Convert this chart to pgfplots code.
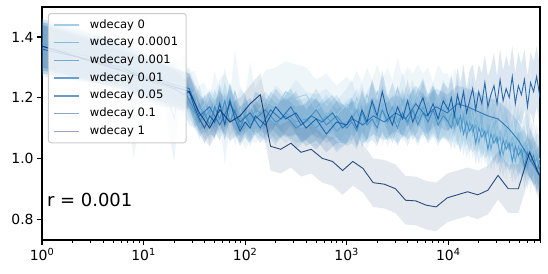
\documentclass[border=0pt]{standalone}
\usepackage{fontspec}
\setmainfont{DejaVu Sans}
\usepackage{pgfplots}
\pgfplotsset{compat=1.18}
\usepackage{pgfplotstable}
\usepgfplotslibrary{fillbetween}

\definecolor{c0}{HTML}{9DC9E2}
\definecolor{c1}{HTML}{7DB8DA}
\definecolor{c2}{HTML}{5BA3D0}
\definecolor{c3}{HTML}{3A8AC2}
\definecolor{c4}{HTML}{1F6EB3}
\definecolor{c5}{HTML}{0B559F}
\definecolor{c6}{HTML}{08306B}
\definecolor{l0}{RGB}{160,205,232}
\definecolor{l1}{RGB}{130,190,225}
\definecolor{l2}{RGB}{110,170,215}
\definecolor{l3}{RGB}{100,160,210}
\definecolor{l4}{RGB}{110,150,200}
\definecolor{l5}{RGB}{140,165,200}
\definecolor{l6}{RGB}{150,165,190}

% dense grid: x, mean and sd for wdecay 0, 0.0001, 0.001, 0.01, 0.1
\pgfplotstableread{
x m0 s0 m1 s1 m2 s2 m3 s3 m5 s5
1 1.37 .09 1.36 .09 1.38 .08 1.37 .08 1.36 .08
6.3 1.30 .08 1.31 .07 1.32 .07 1.31 .07 1.30 .07
8 1.16 .16 1.29 .07 1.30 .07 1.29 .07 1.28 .07
10 1.27 .08 1.27 .07 1.28 .07 1.27 .07 1.26 .07
15.8 1.25 .08 1.25 .07 1.25 .07 1.25 .07 1.24 .07
20 1.25 .08 1.13 .14 1.23 .07 1.24 .07 1.23 .06
22.4 1.24 .08 1.23 .07 1.22 .06 1.23 .06 1.22 .06
25.1 1.24 .10 1.22 .06 1.20 .05 1.23 .05 1.21 .05
28.2 1.20 .08 1.24 .06 1.17 .06 1.19 .05 1.22 .05
31.6 1.22 .07 1.18 .07 1.15 .05 1.16 .06 1.17 .06
35.5 1.15 .09 1.16 .06 1.18 .06 1.12 .05 1.13 .05
39.8 1.18 .07 1.12 .07 1.13 .05 1.15 .06 1.10 .05
44.7 1.12 .08 1.17 .06 1.16 .06 1.11 .05 1.14 .06
50.1 1.19 .10 1.14 .07 1.11 .05 1.17 .06 1.12 .05
56.2 1.14 .08 1.20 .06 1.19 .06 1.13 .05 1.18 .06
63.1 1.21 .09 1.13 .15 1.12 .06 1.19 .06 1.11 .05
70.8 1.13 .08 1.18 .06 1.20 .05 1.12 .05 1.19 .06
79.4 1.22 .14 1.11 .07 1.14 .06 1.16 .06 1.13 .05
89.1 1.16 .08 1.17 .06 1.10 .05 1.10 .05 1.09 .05
100 1.12 .09 1.14 .07 1.15 .06 1.14 .06 1.12 .05
112 1.19 .13 1.10 .06 1.12 .05 1.11 .05 1.10 .05
126 1.14 .09 1.15 .07 1.16 .06 1.13 .05 1.14 .05
158 1.19 .10 1.12 .07 1.14 .06 1.16 .06 1.11 .05
200 1.17 .13 1.16 .08 1.11 .06 1.12 .06 1.17 .06
251 1.22 .10 1.13 .08 1.15 .07 1.14 .06 1.13 .06
316 1.20 .11 1.17 .09 1.12 .07 1.10 .07 1.15 .07
398 1.21 .09 1.14 .08 1.13 .07 1.12 .06 1.10 .06
501 1.16 .10 1.12 .09 1.10 .07 1.16 .07 1.13 .07
631 1.19 .09 1.15 .08 1.14 .07 1.11 .06 1.08 .06
794 1.14 .10 1.11 .08 1.09 .07 1.14 .07 1.12 .07
1000 1.18 .09 1.14 .09 1.12 .07 1.10 .06 1.11 .06
1122 1.15 .10 1.18 .08 1.13 .07 1.12 .07 1.14 .06
1259 1.20 .09 1.12 .08 1.16 .07 1.09 .06 1.10 .06
1413 1.14 .11 1.16 .09 1.11 .07 1.15 .07 1.16 .07
1585 1.21 .09 1.11 .08 1.14 .08 1.11 .06 1.12 .06
1778 1.16 .10 1.17 .09 1.18 .07 1.13 .07 1.19 .07
1995 1.22 .09 1.13 .08 1.12 .07 1.10 .06 1.14 .06
2239 1.15 .11 1.18 .09 1.16 .08 1.16 .07 1.22 .07
2512 1.20 .10 1.12 .08 1.13 .07 1.12 .06 1.15 .06
2818 1.17 .09 1.16 .09 1.17 .08 1.14 .07 1.11 .06
3162 1.23 .10 1.13 .08 1.12 .07 1.10 .06 1.17 .07
3548 1.16 .11 1.19 .09 1.15 .08 1.15 .07 1.13 .06
3981 1.21 .09 1.14 .08 1.11 .07 1.12 .06 1.19 .07
4467 1.18 .10 1.17 .09 1.16 .08 1.16 .07 1.12 .06
5012 1.22 .09 1.12 .08 1.13 .07 1.11 .06 1.16 .07
5623 1.17 .11 1.18 .09 1.17 .08 1.15 .07 1.20 .06
6310 1.20 .10 1.13 .08 1.12 .07 1.12 .06 1.14 .07
7079 1.16 .09 1.16 .09 1.16 .08 1.16 .07 1.18 .06
7943 1.21 .10 1.12 .08 1.13 .07 1.11 .06 1.13 .07
8913 1.17 .11 1.17 .09 1.15 .08 1.14 .07 1.19 .06
10000 1.19 .09 1.14 .08 1.12 .07 1.12 .06 1.16 .07
10715 1.14 .10 1.18 .09 1.15 .08 1.10 .07 1.20 .08
11482 1.21 .09 1.13 .08 1.10 .07 1.15 .06 1.14 .07
12303 1.16 .11 1.16 .10 1.13 .08 1.11 .07 1.21 .09
13183 1.12 .09 1.10 .08 1.09 .07 1.14 .06 1.17 .08
14125 1.19 .10 1.15 .09 1.14 .08 1.08 .07 1.22 .09
15136 1.15 .09 1.12 .08 1.07 .07 1.12 .06 1.15 .08
16218 1.10 .11 1.16 .10 1.12 .08 1.09 .07 1.19 .10
17378 1.18 .09 1.08 .08 1.09 .07 1.11 .06 1.23 .08
18621 1.11 .10 1.13 .09 1.11 .08 1.05 .07 1.16 .09
19953 1.14 .09 1.10 .08 1.05 .07 1.10 .06 1.22 .09
21380 1.08 .11 1.14 .10 1.10 .08 1.07 .07 1.18 .10
22909 1.16 .09 1.06 .08 1.07 .07 1.09 .06 1.25 .09
24547 1.10 .10 1.11 .09 1.09 .08 1.03 .07 1.17 .10
26303 1.13 .09 1.08 .08 1.03 .07 1.08 .06 1.21 .09
28184 1.06 .11 1.12 .10 1.08 .08 1.05 .07 1.24 .11
30200 1.12 .09 1.05 .08 1.05 .07 1.07 .06 1.18 .09
32359 1.08 .10 1.09 .09 1.07 .08 1.01 .07 1.26 .10
34674 1.11 .09 1.06 .08 1.01 .07 1.06 .06 1.19 .10
37154 1.04 .11 1.10 .10 1.06 .08 1.03 .07 1.23 .11
39811 1.10 .09 1.03 .08 1.03 .07 1.05 .06 1.20 .10
42658 1.06 .10 1.07 .09 1.05 .08 0.99 .07 1.27 .10
45709 1.09 .09 1.04 .08 0.99 .07 1.04 .06 1.18 .10
48978 1.02 .11 1.08 .10 1.04 .08 1.01 .07 1.24 .11
52481 1.08 .09 1.01 .08 1.01 .07 1.03 .06 1.21 .10
56234 1.03 .10 1.05 .09 1.03 .08 0.97 .07 1.26 .10
60256 1.06 .09 1.02 .08 0.97 .07 1.02 .06 1.17 .10
64565 0.99 .11 1.04 .10 1.02 .08 0.99 .07 1.25 .10
69183 1.04 .09 0.99 .08 0.98 .07 1.01 .06 1.22 .10
74131 0.98 .10 1.02 .09 1.00 .08 0.96 .07 1.27 .10
80000 1.00 .09 0.97 .08 0.95 .07 0.99 .06 1.20 .10
}\tA

% sparse grid: x, mean and sd for wdecay 0.05 and 1
\pgfplotstableread{
x m4 s4 m6 s6
1 1.37 .08 1.37 .07
28.2 1.23 .05 1.22 .06
35.5 1.14 .05 1.15 .06
44.7 1.17 .05 1.10 .06
56.2 1.11 .05 1.16 .06
70.8 1.18 .05 1.12 .06
89.1 1.12 .05 1.14 .06
112 1.15 .05 1.18 .06
141 1.10 .05 1.21 .07
178 1.16 .06 1.04 .08
224 1.13 .06 1.03 .08
282 1.17 .06 1.05 .08
355 1.11 .06 1.02 .08
447 1.14 .06 1.03 .08
575 1.12 .06 1.00 .08
724 1.15 .06 0.99 .08
912 1.10 .06 0.96 .08
1148 1.13 .06 0.99 .08
1445 1.11 .06 0.967 .08
1820 1.14 .06 0.92 .08
2344 1.12 .06 0.915 .08
3020 1.15 .06 0.90 .08
3802 1.13 .06 0.862 .08
4786 1.18 .06 0.86 .08
6026 1.14 .06 0.846 .08
7586 1.17 .06 0.84 .08
9772 1.15 .06 0.87 .08
12303 1.18 .06 0.88 .08
15488 1.17 .06 0.89 .08
19498 1.155 .06 0.88 .08
24547 1.14 .06 0.895 .08
30903 1.13 .06 0.944 .08
38905 1.10 .06 0.90 .08
48978 1.06 .06 0.90 .08
63096 1.00 .06 1.02 .08
80000 0.94 .06 0.94 .08
}\tB

\newcommand{\band}[5]{%
  \addplot[draw=none, name path=U#2, forget plot] table[x=x, y expr=\thisrow{#2}+\thisrow{#3}] {#1};
  \addplot[draw=none, name path=L#2, forget plot] table[x=x, y expr=\thisrow{#2}-\thisrow{#3}] {#1};
  \addplot[fill=#4, fill opacity=#5, draw=none, forget plot] fill between[of=U#2 and L#2];
  \addplot[#4, line width=0.9bp, draw opacity=0.85, forget plot] table[x=x, y=#2] {#1};
}

\begin{document}
\begin{tikzpicture}
\begin{axis}[
  at={(0,0)}, anchor=south west,
  scale only axis, width=498bp, height=233bp,
  xmode=log, log basis x=10,
  xmin=1, xmax=80000, ymin=0.731, ymax=1.499,
  xtick={1,10,100,1000,10000},
  xticklabels={10\textsuperscript{0},10\textsuperscript{1},10\textsuperscript{2},10\textsuperscript{3},10\textsuperscript{4}},
  minor xtick={2,3,4,5,6,7,8,9,20,30,40,50,60,70,80,90,200,300,400,500,600,700,800,900,2000,3000,4000,5000,6000,7000,8000,9000,20000,30000,40000,50000,60000,70000,80000},
  ytick={0.8,1.0,1.2,1.4},
  yticklabels={0.8,1.0,1.2,1.4},
  tick align=outside, tick pos=left,
  major tick length=4.9bp, minor tick length=2.8bp,
  tick style={black, line width=1.1bp},
  minor tick style={line width=0.8bp},
  axis line style={black, line width=1.1bp},
  ticklabel style={font=\fontsize{14}{16}\selectfont},
  legend cell align=left,
  legend image code/.code={\draw[#1] (0bp,0bp) -- (25bp,0bp);},
  legend style={at={(0.012,0.974)}, anchor=north west,
    draw=black!20, line width=1bp, fill=white, fill opacity=0.8,
    draw opacity=1, text opacity=1, rounded corners=2.5bp,
    font=\fontsize{11.6}{13}\selectfont,
    inner xsep=5bp, inner ysep=6bp, row sep=6.7bp,
    /tikz/every odd column/.style={column sep=7bp},
    nodes={inner xsep=3bp, inner ysep=0bp, text height=8.6bp, text depth=2.4bp}},
]
\band{\tA}{m0}{s0}{c0}{0.16}
\band{\tA}{m1}{s1}{c1}{0.16}
\band{\tA}{m2}{s2}{c2}{0.16}
\band{\tA}{m3}{s3}{c3}{0.15}
\band{\tB}{m4}{s4}{c4}{0.14}
\band{\tA}{m5}{s5}{c5}{0.14}
\band{\tB}{m6}{s6}{c6}{0.11}

\addlegendimage{l0, line width=1.4bp}
\addlegendentry{wdecay 0}
\addlegendimage{l1, line width=1.4bp}
\addlegendentry{wdecay 0.0001}
\addlegendimage{l2, line width=1.4bp}
\addlegendentry{wdecay 0.001}
\addlegendimage{l3, line width=1.4bp}
\addlegendentry{wdecay 0.01}
\addlegendimage{l4, line width=1.4bp}
\addlegendentry{wdecay 0.05}
\addlegendimage{l5, line width=1.4bp}
\addlegendentry{wdecay 0.1}
\addlegendimage{l6, line width=1.4bp}
\addlegendentry{wdecay 1}

\node[anchor=west, inner sep=0pt, font=\fontsize{18}{20}\selectfont] at (rel axis cs:0.01,0.172) {r = 0.001};
\end{axis}
\pgfresetboundingbox
\useasboundingbox (-42bp,-34bp) rectangle (506bp,240bp);
\end{tikzpicture}
\end{document}
